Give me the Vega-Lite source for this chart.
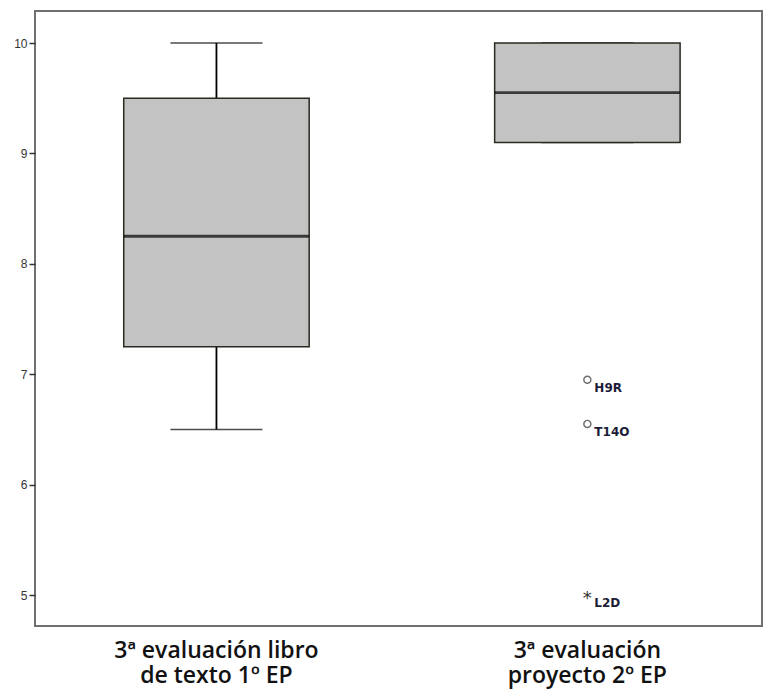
{
  "$schema": "https://vega.github.io/schema/vega-lite/v6.json",
  "width": 727,
  "height": 615,
  "autosize": {"type": "none"},
  "padding": {"left": 35, "top": 11, "right": 6, "bottom": 65},
  "background": "white",
  "config": {
    "view": {"stroke": "#707070", "strokeWidth": 2},
    "font": "DejaVu Sans"
  },
  "datasets": {
    "boxes": [
      {"grupo": "3ª evaluación libro|de texto 1º EP", "min": 6.5, "q1": 7.25, "median": 8.25, "q3": 9.5, "max": 10},
      {"grupo": "3ª evaluación|proyecto 2º EP", "min": 9.1, "q1": 9.1, "median": 9.55, "q3": 10, "max": 10}
    ],
    "outliers": [
      {"grupo": "3ª evaluación|proyecto 2º EP", "valor": 6.95, "id": "H9R", "tipo": "atípico"},
      {"grupo": "3ª evaluación|proyecto 2º EP", "valor": 6.55, "id": "T14O", "tipo": "atípico"},
      {"grupo": "3ª evaluación|proyecto 2º EP", "valor": 5.0, "id": "L2D", "tipo": "extremo"}
    ]
  },
  "encoding": {
    "x": {
      "field": "grupo",
      "type": "nominal",
      "sort": null,
      "scale": {"paddingInner": 0.5, "paddingOuter": 0.23, "align": 0.52},
      "axis": {
        "title": null,
        "labelAngle": 0,
        "ticks": false,
        "domain": false,
        "labelExpr": "split(datum.label, '|')",
        "labelFontSize": 23,
        "labelFontWeight": 600,
        "labelColor": "#111111",
        "labelPadding": 13,
        "labelLineHeight": 25,
        "labelLimit": 0,
        "labelOverlap": false,
        "labelFont": "Open Sans"
      }
    }
  },
  "layer": [
    {
      "data": {"name": "boxes"},
      "mark": {"type": "rule", "color": "#000000", "strokeWidth": 1.8},
      "encoding": {
        "y": {
          "field": "min",
          "type": "quantitative",
          "scale": {"domain": [4.72, 10.29], "nice": false, "zero": false},
          "axis": {
            "title": null,
            "values": [5, 6, 7, 8, 9, 10],
            "format": "d",
            "grid": false,
            "domain": false,
            "tickSize": 6,
            "tickColor": "#333333",
            "tickWidth": 1.5,
            "labelFontSize": 12,
            "labelColor": "#333333",
            "labelFont": "Liberation Sans",
            "labelPadding": 2
          }
        },
        "y2": {"field": "max"}
      }
    },
    {
      "data": {"name": "boxes"},
      "mark": {"type": "tick", "orient": "horizontal", "color": "#000000", "size": 92, "thickness": 1.5},
      "encoding": {"y": {"field": "min", "type": "quantitative"}}
    },
    {
      "data": {"name": "boxes"},
      "mark": {"type": "tick", "orient": "horizontal", "color": "#000000", "size": 92, "thickness": 1.5},
      "encoding": {"y": {"field": "max", "type": "quantitative"}}
    },
    {
      "data": {"name": "boxes"},
      "mark": {"type": "bar", "fill": "#c3c3c3", "stroke": "#2a2a20", "strokeWidth": 1.5},
      "encoding": {
        "y": {"field": "q1", "type": "quantitative"},
        "y2": {"field": "q3"}
      }
    },
    {
      "data": {"name": "boxes"},
      "mark": {"type": "tick", "orient": "horizontal", "color": "#000000", "size": 185, "thickness": 2.8},
      "encoding": {"y": {"field": "median", "type": "quantitative"}}
    },
    {
      "data": {"name": "outliers"},
      "transform": [{"filter": "datum.tipo == 'atípico'"}],
      "mark": {"type": "point", "shape": "circle", "filled": false, "size": 50, "stroke": "#333333", "strokeWidth": 1.4},
      "encoding": {"y": {"field": "valor", "type": "quantitative"}}
    },
    {
      "data": {"name": "outliers"},
      "transform": [{"filter": "datum.tipo == 'extremo'"}],
      "mark": {"type": "text", "text": "*", "fontSize": 18, "color": "#333333", "baseline": "middle", "align": "center", "dy": 4},
      "encoding": {"y": {"field": "valor", "type": "quantitative"}}
    },
    {
      "data": {"name": "outliers"},
      "mark": {"type": "text", "align": "left", "baseline": "middle", "dx": 7, "dy": 8, "fontSize": 12, "fontWeight": "bold", "color": "#1c1c38", "font": "DejaVu Sans"},
      "encoding": {
        "y": {"field": "valor", "type": "quantitative"},
        "text": {"field": "id"}
      }
    }
  ]
}
